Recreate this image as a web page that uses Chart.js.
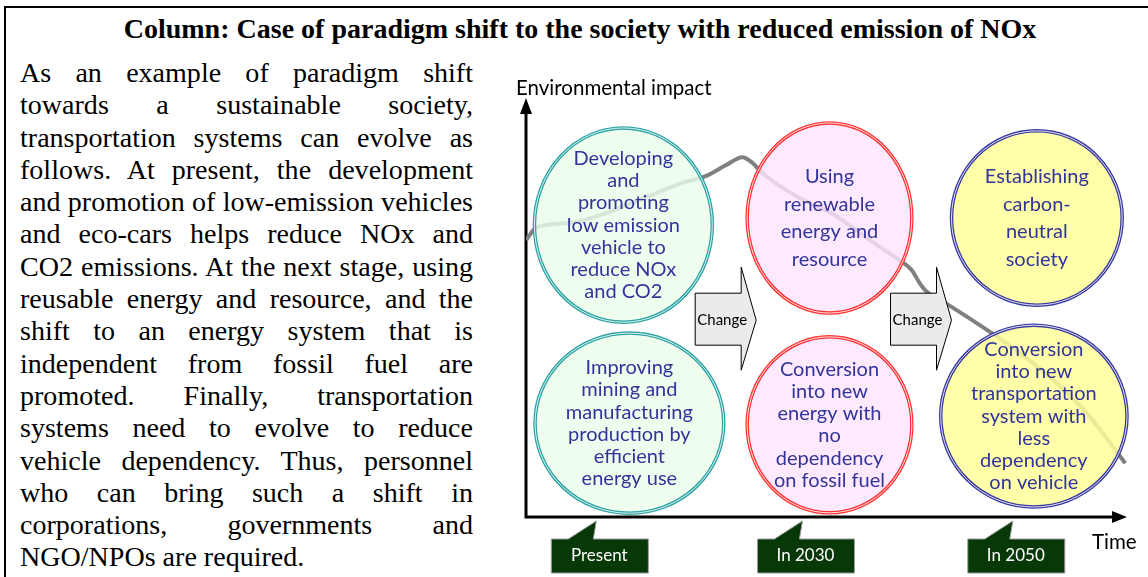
<!DOCTYPE html>
<html>
<head>
<meta charset="utf-8">
<title>Paradigm shift - reduced NOx</title>
<script src="https://cdn.jsdelivr.net/npm/chart.js@4"></script>
<style>
  html, body { margin: 0; padding: 0; background: #fff; }
  body { width: 1148px; height: 577px; position: relative; overflow: hidden; }
  .frame { position: absolute; left: 4px; top: 6px; width: 1200px; height: 700px;
           border-top: 2px solid #000; border-left: 2px solid #000; }
  h1 { position: absolute; left: 0; width: 1160px; top: 14px; margin: 0; text-align: center;
       font: bold 28px/30px "Liberation Serif", "Times New Roman", serif; color: #000; }
  .text { position: absolute; left: 20px; top: 57px; width: 453px;
          font-family: "Liberation Serif", "Times New Roman", serif; font-size: 26px;
          line-height: 32.3px; color: #000; }
  .text span { display: block; text-align: justify; text-align-last: justify; }
  .text span:last-child { text-align-last: left; }
  #diagram { position: absolute; left: 505px; top: 70px; }
</style>
</head>
<body>
<div class="frame"></div>
<h1>Column: Case of paradigm shift to the society with reduced emission of NOx</h1>
<div class="text">
  <span>As an example of paradigm shift</span>
  <span>towards a sustainable society,</span>
  <span>transportation systems can evolve as</span>
  <span>follows. At present, the development</span>
  <span>and promotion of low-emission vehicles</span>
  <span>and eco-cars helps reduce NOx and</span>
  <span>CO2 emissions. At the next stage, using</span>
  <span>reusable energy and resource, and the</span>
  <span>shift to an energy system that is</span>
  <span>independent from fossil fuel are</span>
  <span>promoted. Finally, transportation</span>
  <span>systems need to evolve to reduce</span>
  <span>vehicle dependency. Thus, personnel</span>
  <span>who can bring such a shift in</span>
  <span>corporations, governments and</span>
  <span>NGO/NPOs are required.</span>
</div>
<canvas id="diagram" width="643" height="507"></canvas>

<script>
  // environmental impact curve (time 0-100, impact 0-100)
  const impactTime = [0, 1.8, 7.2, 13.8, 20.5, 26.0, 30.0, 33.3, 36.0, 37.7, 39.3, 45.5, 51.0,
    57.2, 62.5, 64.2, 65.5, 66.7, 70.8, 77.7, 82.2, 87.7, 93.3, 97.2, 99.7];
  const impactLevel = [66.4, 69.5, 70.5, 73.1, 77.0, 80.1, 81.8, 84.4, 86.3, 84.9, 82.5, 76.5, 72.7,
    66.4, 61.2, 59.2, 56.1, 54.0, 50.4, 43.9, 39.3, 32.9, 24.9, 17.7, 12.9];

  // measures per stage (column 0 = present, 1 = 2030, 2 = 2050)
  const ideaColumn = [0, 0, 1, 1, 2, 2];
  const ideaTime = [16.2, 17.2, 50.5, 50.5, 85.0, 84.5];
  const ideaLevel = [70.0, 22.5, 71.7, 22.1, 71.7, 24.2];
  const ideaSpanT = [14.8, 15.7, 13.7, 13.7, 14.2, 15.5];
  const ideaSpanL = [23.3, 21.6, 22.8, 21.1, 20.9, 21.8];
  const ideaText = [
    ['Developing', 'and', 'promoting', 'low emission', 'vehicle to', 'reduce NOx', 'and CO2'],
    ['Improving', 'mining and', 'manufacturing', 'production by', 'efficient', 'energy use'],
    ['Using', 'renewable', 'energy and', 'resource'],
    ['Conversion', 'into new', 'energy with', 'no', 'dependency', 'on fossil fuel'],
    ['Establishing', 'carbon-', 'neutral', 'society'],
    ['Conversion', 'into new', 'transportation', 'system with', 'less', 'dependency', 'on vehicle'],
  ];

  const stages = ['Present', 'In 2030', 'In 2050'];
  const stageTime = [11.7, 46.0, 81.0];

  const changeLabel = 'Change';
  const changeTime = [38.3, 70.8];
  const changeLevel = [47.2, 47.2];

  const yAxisTitle = 'Environmental impact';
  const xAxisTitle = 'Time';

  // fit the justified paragraph: widest line at natural spacing = column width
  (() => {
    const para = document.querySelector('.text');
    let widest = 0;
    para.querySelectorAll('span').forEach((s) => {
      const probe = document.createElement('span');
      probe.textContent = s.textContent;
      probe.style.cssText = 'display:inline-block;white-space:nowrap;position:absolute;visibility:hidden;';
      para.appendChild(probe);
      widest = Math.max(widest, probe.getBoundingClientRect().width);
      para.removeChild(probe);
    });
    if (widest > 0) para.style.fontSize = (26 * 452 / widest).toFixed(2) + 'px';
  })();

  const sans = 'Lato, "Open Sans", sans-serif';
  const fills = ['rgba(236, 253, 234, 0.82)', 'rgba(255, 228, 255, 0.82)', 'rgba(255, 255, 153, 0.84)'];
  const rims = ['#2aa3a3', '#ff3333', '#3838a0'];

  const diagramPlugin = {
    id: 'diagram',
    beforeDatasetsDraw(chart) {
      const { ctx, chartArea: a } = chart;
      const x0 = a.left, y0 = a.bottom;
      ctx.save();
      ctx.strokeStyle = '#000';
      ctx.fillStyle = '#000';
      ctx.lineWidth = 3;
      ctx.beginPath();
      ctx.moveTo(x0, y0 + 1.5);
      ctx.lineTo(x0, a.top + 12);
      ctx.moveTo(x0 - 1.5, y0);
      ctx.lineTo(a.right - 12, y0);
      ctx.stroke();
      ctx.beginPath();
      ctx.moveTo(x0, a.top - 2);
      ctx.lineTo(x0 - 6, a.top + 14);
      ctx.lineTo(x0 + 6, a.top + 14);
      ctx.closePath();
      ctx.moveTo(a.right, y0);
      ctx.lineTo(a.right - 15, y0 - 6);
      ctx.lineTo(a.right - 15, y0 + 6);
      ctx.closePath();
      ctx.fill();

      ctx.font = '20.5px ' + sans;
      ctx.textBaseline = 'middle';
      ctx.textAlign = 'left';
      ctx.fillText(yAxisTitle, x0 - 10, a.top - 12);
      ctx.fillText(xAxisTitle, a.right - 35, y0 + 25);
      ctx.restore();
    },
    afterDatasetsDraw(chart) {
      const { ctx, scales: { x: xs, y: ys }, chartArea: a } = chart;
      ctx.save();
      ideaTime.forEach((t, i) => {
        const cx = xs.getPixelForValue(t);
        const cy = ys.getPixelForValue(ideaLevel[i]);
        const rx = xs.getPixelForValue(t + ideaSpanT[i]) - cx;
        const ry = ys.getPixelForValue(ideaLevel[i] - ideaSpanL[i]) - cy;
        const col = ideaColumn[i];
        ctx.beginPath();
        ctx.ellipse(cx, cy, rx, ry, 0, 0, Math.PI * 2);
        ctx.fillStyle = fills[col];
        ctx.fill();
        ctx.strokeStyle = rims[col];
        ctx.lineWidth = 3.5;
        ctx.stroke();
        ctx.strokeStyle = 'rgba(255,255,255,0.85)';
        ctx.lineWidth = 1;
        ctx.stroke();

        const lines = ideaText[i];
        const lh = lines.length <= 4 ? 27.6 : 22.2;
        ctx.fillStyle = '#31349a';
        ctx.font = '20px ' + sans;
        ctx.textAlign = 'center';
        ctx.textBaseline = 'middle';
        lines.forEach((s, k) => {
          ctx.fillText(s, cx, cy + (k - (lines.length - 1) / 2) * lh);
        });
      });

      // change arrows
      changeTime.forEach((t, i) => {
        const tx = xs.getPixelForValue(t);
        const ty = ys.getPixelForValue(changeLevel[i]);
        ctx.beginPath();
        ctx.moveTo(tx - 61, ty - 27);
        ctx.lineTo(tx - 15, ty - 27);
        ctx.lineTo(tx - 15, ty - 53);
        ctx.lineTo(tx, ty);
        ctx.lineTo(tx - 15, ty + 50);
        ctx.lineTo(tx - 15, ty + 25);
        ctx.lineTo(tx - 61, ty + 25);
        ctx.closePath();
        ctx.fillStyle = '#ebebeb';
        ctx.fill();
        ctx.strokeStyle = '#000';
        ctx.lineWidth = 1;
        ctx.stroke();
        ctx.fillStyle = '#000';
        ctx.font = '15px ' + sans;
        ctx.textAlign = 'center';
        ctx.textBaseline = 'middle';
        ctx.fillText(changeLabel, tx - 34, ty);
      });

      // stage labels below the time axis
      const y0 = a.bottom;
      stages.forEach((s, i) => {
        const tx = xs.getPixelForValue(stageTime[i]);
        ctx.fillStyle = '#073807';
        ctx.strokeStyle = '#9a9a9a';
        ctx.lineWidth = 1;
        ctx.beginPath();
        ctx.moveTo(tx - 45, y0 + 22);
        ctx.lineTo(tx - 28, y0 + 22);
        ctx.lineTo(tx, y0 + 4);
        ctx.lineTo(tx - 3, y0 + 22);
        ctx.lineTo(tx + 52, y0 + 22);
        ctx.lineTo(tx + 52, y0 + 56);
        ctx.lineTo(tx - 45, y0 + 56);
        ctx.closePath();
        ctx.fill();
        ctx.stroke();
        ctx.fillStyle = '#fff';
        ctx.font = '17px ' + sans;
        ctx.textAlign = 'center';
        ctx.textBaseline = 'middle';
        ctx.fillText(s, tx + 3, y0 + 39);
      });
      ctx.restore();
    },
  };

  new Chart(document.getElementById('diagram'), {
    type: 'line',
    data: {
      datasets: [{
        label: 'Environmental impact',
        data: impactTime.map((t, i) => ({ x: t, y: impactLevel[i] })),
        borderColor: '#808080',
        borderWidth: 4,
        pointRadius: 0,
        cubicInterpolationMode: 'monotone',
        fill: false,
      }],
    },
    options: {
      responsive: false,
      animation: false,
      events: [],
      layout: { padding: { left: 21, right: 21, top: 30, bottom: 60 } },
      scales: {
        x: { type: 'linear', min: 0, max: 100, display: false },
        y: { min: 0, max: 100, display: false },
      },
      plugins: { legend: { display: false }, tooltip: { enabled: false } },
    },
    plugins: [diagramPlugin],
  });
</script>
</body>
</html>
